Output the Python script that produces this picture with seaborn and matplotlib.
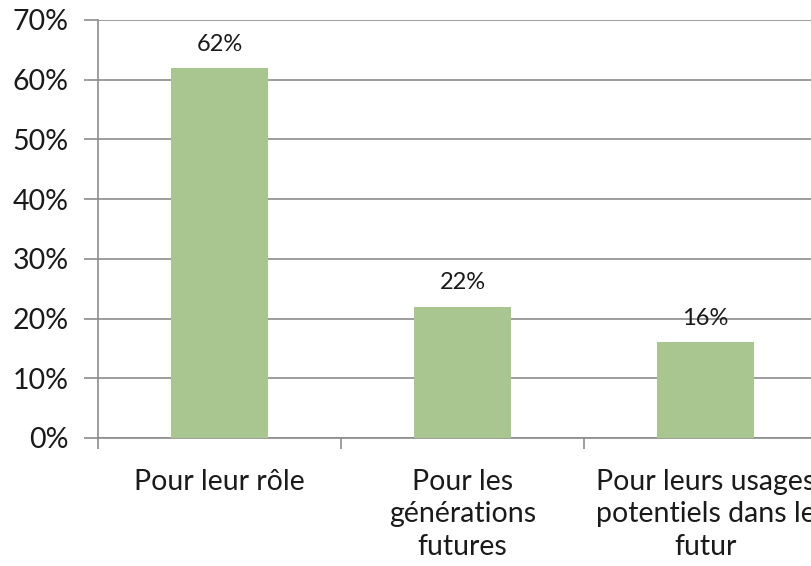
import numpy as np
import pandas as pd
import seaborn as sns
from matplotlib import pyplot as plt
from matplotlib.ticker import FuncFormatter

categories = ["Pour leur rôle",
              "Pour les\ngénérations\nfutures",
              "Pour leurs usages\npotentiels dans le\nfutur"]
values = [62, 22, 16]
yticks = [0, 10, 20, 30, 40, 50, 60, 70]

df = pd.DataFrame({"cat": categories, "val": values})

sns.set_style("white")
plt.rcParams['font.family'] = ['Lato', 'DejaVu Sans']

fig = plt.figure(figsize=(8.12, 5.66), dpi=100)
ax = fig.add_axes([98 / 812, 128 / 566, 729 / 812, 418 / 566])

sns.barplot(data=df, x="cat", y="val", color="#a9c590", width=0.4,
            saturation=1, linewidth=0, ax=ax, zorder=3)

for i, v in enumerate(values):
    ax.text(i, v + 2.2, f"{v}%", ha="center", va="bottom", fontsize=17, color="#1a1a1a")

ax.set_ylim(0, 70)
ax.set_xlim(-0.5, 2.5)
ax.set_yticks(yticks)
ax.yaxis.set_major_formatter(FuncFormatter(lambda v, p: f"{int(v)}%"))
ax.yaxis.grid(True, color="#8c8c8c", linewidth=1.2, zorder=0)
ax.set_axisbelow(True)

# category separators as major ticks, labels as minor ticks
ax.set_xticks([-0.5, 0.5, 1.5, 2.5])
ax.set_xticklabels([])
ax.set_xticks([0, 1, 2], minor=True)
ax.set_xticklabels(categories, minor=True, fontsize=20.5, linespacing=1.32)
ax.tick_params(axis="x", which="major", length=8, width=1.2, color="#8c8c8c", direction="out", bottom=True)
ax.tick_params(axis="x", which="minor", length=0, pad=22, colors="#1a1a1a")
ax.tick_params(axis="y", length=10, width=1.2, color="#8c8c8c", direction="out", left=True,
               labelsize=20.5, labelcolor="#1a1a1a", pad=11)

ax.set_xlabel("")
ax.set_ylabel("")
for s in ["top", "right"]:
    ax.spines[s].set_visible(False)
for s in ["left", "bottom"]:
    ax.spines[s].set_color("#8c8c8c")
    ax.spines[s].set_linewidth(1.2)

fig.savefig("out.png", dpi=100)
